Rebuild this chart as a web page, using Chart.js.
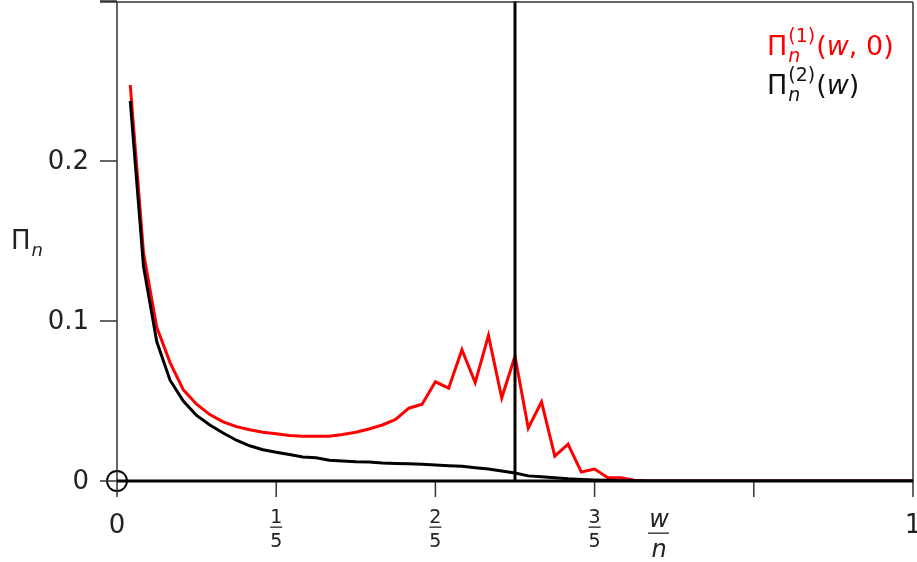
<!DOCTYPE html>
<html>
<head>
<meta charset="utf-8">
<script src="https://cdn.jsdelivr.net/npm/chart.js@4/dist/chart.umd.min.js"></script>
<style>
  html, body { margin: 0; padding: 0; background: #fff; }
  #wrap { width: 917px; height: 562px; position: relative; }
</style>
</head>
<body>
<div id="wrap"><canvas id="chart" width="917" height="562"></canvas></div>
<script>
// w = 1..60, plotted at w/n
const n = 60;
const wValues = [1,2,3,4,5,6,7,8,9,10,11,12,13,14,15,16,17,18,19,20,
                 21,22,23,24,25,26,27,28,29,30,31,32,33,34,35,36,37,38,39,40,
                 41,42,43,44,45,46,47,48,49,50,51,52,53,54,55,56,57,58,59,60];
// Pi_n^(1)(w,0)
const pi1 = [0.2475,0.1425,0.096,0.074,0.057,0.048,0.0415,0.037,0.034,0.032,
             0.0305,0.0295,0.0285,0.028,0.028,0.028,0.029,0.0305,0.0325,0.035,
             0.0385,0.0455,0.048,0.062,0.058,0.082,0.0615,0.091,0.052,0.078,
             0.033,0.0495,0.0155,0.023,0.0056,0.0075,0.002,0.002,0.0005,0,
             0,0,0,0,0,0,0,0,0,0,
             0,0,0,0,0,0,0,0,0,0];
// Pi_n^(2)(w)
const pi2 = [0.2375,0.134,0.087,0.063,0.050,0.041,0.035,0.030,0.0255,0.022,
             0.0195,0.018,0.0165,0.015,0.0145,0.013,0.0125,0.012,0.0118,0.0113,
             0.011,0.0108,0.0105,0.010,0.0096,0.0092,0.0083,0.0075,0.0062,0.005,
             0.0032,0.0026,0.002,0.0014,0.001,0.0007,0.0004,0.0002,0.0001,0,
             0,0,0,0,0,0,0,0,0,0,
             0,0,0,0,0,0,0,0,0,0];
const markerX = 0.5;

const xTicks = [0, 0.2, 0.4, 0.6, 0.8, 1];
const xTickLabels = ['0', '1/5', '2/5', '3/5', '', '1'];
const yTicks = [0, 0.1, 0.2, 0.3];
const yTickLabels = ['0', '0.1', '0.2', ''];

const FONT = '"DejaVu Sans", sans-serif';
const AXIS = '#333';

const toPts = vals => vals.map((v, i) => ({ x: wValues[i] / n, y: v }));

// draws a run of text pieces; pieces with sub/sup share an x slot
function drawRich(ctx, x, y, parts, color, size) {
    const small = Math.round(size * 0.7);
    ctx.fillStyle = color;
    ctx.textBaseline = 'alphabetic';
    ctx.textAlign = 'left';
    parts.forEach(p => {
        if (p.sub !== undefined || p.sup !== undefined) {
            ctx.font = 'italic ' + small + 'px ' + FONT;
            const w1 = p.sub ? ctx.measureText(p.sub).width : 0;
            if (p.sub) ctx.fillText(p.sub, x + 1, y + 7);
            ctx.font = small + 'px ' + FONT;
            const w2 = p.sup ? ctx.measureText(p.sup).width : 0;
            if (p.sup) ctx.fillText(p.sup, x + 1, y - 13);
            x += Math.max(w1, w2) + 2;
        } else {
            ctx.font = (p.it ? 'italic ' : '') + size + 'px ' + FONT;
            ctx.fillText(p.t, x, y);
            x += ctx.measureText(p.t).width;
        }
    });
}

const axesPlugin = {
    id: 'axesPlugin',
    afterDraw(chart) {
        const ctx = chart.ctx;
        const xs = chart.scales.x, ys = chart.scales.y;
        const x0 = xs.getPixelForValue(0), x1 = xs.getPixelForValue(1);
        const y0 = ys.getPixelForValue(0), yTop = ys.getPixelForValue(0.3);
        ctx.save();
        ctx.strokeStyle = AXIS;
        ctx.lineWidth = 1.5;
        ctx.beginPath();
        ctx.moveTo(x0, yTop + 1); ctx.lineTo(x0, y0 + 16);
        ctx.moveTo(x0 - 17, yTop + 1); ctx.lineTo(x1, yTop + 1);
        ctx.moveTo(x1, yTop + 1); ctx.lineTo(x1, y0 + 16);
        yTicks.forEach(v => {
            const py = ys.getPixelForValue(v);
            ctx.moveTo(x0 - 17, py); ctx.lineTo(x0, py);
        });
        xTicks.forEach(v => {
            const px = xs.getPixelForValue(v);
            ctx.moveTo(px, y0); ctx.lineTo(px, y0 + 16);
        });
        ctx.stroke();

        // thick x axis line
        ctx.strokeStyle = '#000';
        ctx.lineWidth = 3;
        ctx.beginPath();
        ctx.moveTo(x0, y0); ctx.lineTo(x1, y0);
        ctx.stroke();

        ctx.fillStyle = '#222';
        // y tick labels
        ctx.font = '26px ' + FONT;
        ctx.textAlign = 'right';
        ctx.textBaseline = 'middle';
        yTicks.forEach((v, i) => {
            if (yTickLabels[i]) ctx.fillText(yTickLabels[i], 89, ys.getPixelForValue(v) + 1);
        });

        // x tick labels (fractions)
        ctx.textAlign = 'center';
        ctx.textBaseline = 'alphabetic';
        xTicks.forEach((v, i) => {
            const lab = xTickLabels[i];
            if (!lab) return;
            const px = xs.getPixelForValue(v);
            if (lab.includes('/')) {
                const [a, b] = lab.split('/');
                ctx.font = '19px ' + FONT;
                ctx.fillText(a, px, 523);
                ctx.fillText(b, px, 547);
                ctx.fillRect(px - 6, 526.5, 12, 1.3);
            } else {
                ctx.font = '26px ' + FONT;
                ctx.fillText(lab, px, 533);
            }
        });

        // x axis title w/n
        ctx.font = 'italic 24px ' + FONT;
        ctx.fillText('w', 659, 527);
        ctx.fillText('n', 659, 557);
        ctx.fillRect(648, 532.5, 21, 1.3);

        // y axis title
        drawRich(ctx, 11, 249, [{ t: 'Π' }, { sub: 'n' }], '#222', 26);

        // legend
        drawRich(ctx, 767, 55, [{ t: 'Π' }, { sub: 'n', sup: '(1)' }, { t: '(' }, { t: 'w', it: true }, { t: ', 0)' }], '#ff0000', 27);
        drawRich(ctx, 767, 94, [{ t: 'Π' }, { sub: 'n', sup: '(2)' }, { t: '(' }, { t: 'w', it: true }, { t: ')' }], '#111', 27);
        ctx.restore();
    }
};

new Chart(document.getElementById('chart').getContext('2d'), {
    type: 'line',
    data: {
        datasets: [
            {
                label: 'Pi1',
                data: toPts(pi1),
                borderColor: '#ff0000',
                borderWidth: 3,
                pointRadius: 0,
                tension: 0,
                order: 3
            },
            {
                label: 'Pi2',
                data: toPts(pi2),
                borderColor: '#000',
                borderWidth: 3,
                pointRadius: 0,
                tension: 0,
                order: 2
            },
            {
                label: 'w=n/2',
                data: [{ x: markerX, y: 0 }, { x: markerX, y: 0.3 }],
                borderColor: '#000',
                borderWidth: 3,
                pointRadius: 0,
                order: 1
            },
            {
                label: 'origin',
                data: [{ x: 0, y: 0 }],
                showLine: false,
                pointRadius: 10,
                pointStyle: 'circle',
                pointBorderColor: '#000',
                pointBorderWidth: 1.8,
                pointBackgroundColor: 'rgba(0,0,0,0)',
                clip: false,
                order: 0
            }
        ]
    },
    options: {
        responsive: false,
        animation: false,
        layout: { autoPadding: false, padding: { left: 117, right: 4, top: 1, bottom: 81 } },
        plugins: { legend: { display: false }, tooltip: { enabled: false } },
        scales: {
            x: { type: 'linear', min: 0, max: 1, display: false },
            y: { type: 'linear', min: 0, max: 0.3, display: false }
        }
    },
    plugins: [axesPlugin]
});
</script>
</body>
</html>
